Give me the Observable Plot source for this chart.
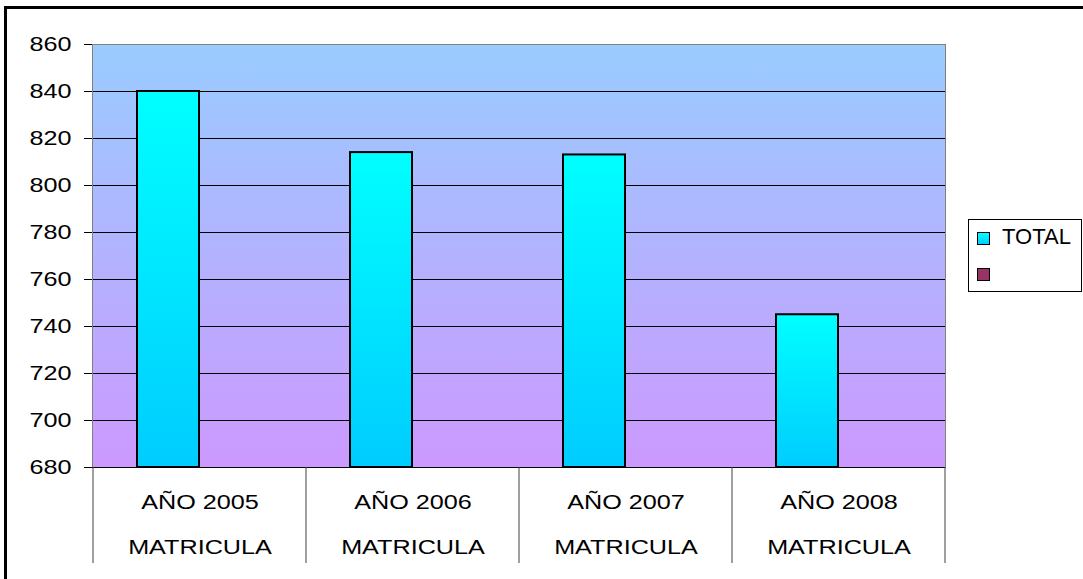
<!DOCTYPE html>
<html><head><meta charset="utf-8">
<script src="https://cdn.jsdelivr.net/npm/d3@7"></script>
<script src="https://cdn.jsdelivr.net/npm/@observablehq/plot@0.6"></script>
<style>
body{margin:0;background:#fff;}
#wrap{position:relative;width:1083px;height:579px;overflow:hidden;font-family:"Liberation Sans",Arial,sans-serif;background:#fff;}
#border{position:absolute;left:4px;top:6px;width:2000px;height:2000px;border-left:3px solid #000;border-top:3px solid #000;}
#chart{position:absolute;left:0;top:0;}
#legend{position:absolute;left:968px;top:219px;width:112px;height:71px;border:1px solid #000;background:#fff;}
.sw{position:absolute;left:8px;width:11px;height:11px;border:1px solid #000;}
.lt{position:absolute;left:33px;font-size:22px;line-height:22px;color:#000;white-space:nowrap;}
</style></head>
<body><div id="wrap"><div id="border"></div><div id="chart"></div><div id="legend"></div></div>
<script>
// ---- data ----
const categories = ["AÑO 2005", "AÑO 2006", "AÑO 2007", "AÑO 2008"];
const subLabel = "MATRICULA";
const values = [840, 814, 813, 745];
const yTicks = [680, 700, 720, 740, 760, 780, 800, 820, 840, 860];
const yMin = 680, yMax = 860;
const seriesNames = ["TOTAL", ""];
const seriesColors = ["linear-gradient(#00ffff,#00ccff)", "#993366"];

const data = categories.map((c, i) => ({cat: c, value: values[i]}));

const defs = () => {
  const ns = "http://www.w3.org/2000/svg";
  const d = document.createElementNS(ns, "defs");
  d.innerHTML = `<linearGradient id="bgGrad" x1="0" y1="0" x2="0" y2="1"><stop offset="0" stop-color="#99ccff"/><stop offset="1" stop-color="#cc99ff"/></linearGradient>
  <linearGradient id="barGrad" x1="0" y1="0" x2="0" y2="1"><stop offset="0" stop-color="#00ffff"/><stop offset="1" stop-color="#00ccff"/></linearGradient>`;
  return d;
};

const separators = (index, scales, values, dims) => {
  const ns = "http://www.w3.org/2000/svg";
  const g = document.createElementNS(ns, "g");
  const y0 = dims.height - dims.marginBottom;
  const xs = categories.map(c => scales.x(c));
  xs.push(dims.width - dims.marginRight);
  for (const x of xs) {
    const l = document.createElementNS(ns, "line");
    l.setAttribute("x1", x); l.setAttribute("x2", x);
    l.setAttribute("y1", y0); l.setAttribute("y2", y0 + 96);
    l.setAttribute("stroke", "#404040"); l.setAttribute("stroke-width", 1);
    g.appendChild(l);
  }
  return g;
};

const chart = Plot.plot({
  width: 1083, height: 579,
  marginLeft: 92, marginRight: 138, marginTop: 44, marginBottom: 112,
  style: {fontFamily: "Liberation Sans, Arial, sans-serif", fontSize: "20px", background: "transparent", color: "#000", overflow: "visible"},
  x: {domain: categories, padding: 0, label: null},
  y: {domain: [yMin, yMax], label: null},
  marks: [
    defs,
    Plot.frame({fill: "url(#bgGrad)"}),
    Plot.ruleY(yTicks.filter(t => t < yMax), {stroke: "#000", strokeWidth: 1}),
    Plot.barY(data, {x: "cat", y1: yMin, y2: "value", insetLeft: 44, insetRight: 107, fill: "url(#barGrad)", stroke: "#000", strokeWidth: 2}),
    Plot.frame({stroke: "#808080"}),
    Plot.ruleY([yMin], {stroke: "#000", strokeWidth: 1}),
    separators,
    Plot.axisY(yTicks, {tickSize: 8, tickPadding: 13, stroke: "#000", fontSize: 20, label: null}),
    Plot.axisX({tickSize: 0, tickPadding: 27, fontSize: 20, label: null}),
    Plot.axisX({tickSize: 0, tickPadding: 72, fontSize: 20, label: null, tickFormat: () => subLabel})
  ]
});
document.getElementById("chart").append(chart);

const ratio = 1.26;
chart.querySelectorAll('g[aria-label="y-axis tick label"] text, g[aria-label="x-axis tick label"] text').forEach(t => {
  const w = t.getComputedTextLength();
  t.setAttribute("textLength", w * ratio);
  t.setAttribute("lengthAdjust", "spacingAndGlyphs");
});

// legend
const legend = document.getElementById("legend");
seriesNames.forEach((name, i) => {
  const sw = document.createElement("div");
  sw.className = "sw";
  sw.style.top = (12 + i * 36) + "px";
  sw.style.background = seriesColors[i];
  legend.appendChild(sw);
  if (name) {
    const t = document.createElement("div");
    t.className = "lt";
    t.style.top = (6 + i * 36) + "px";
    t.textContent = name;
    legend.appendChild(t);
  }
});
</script>
</body></html>
